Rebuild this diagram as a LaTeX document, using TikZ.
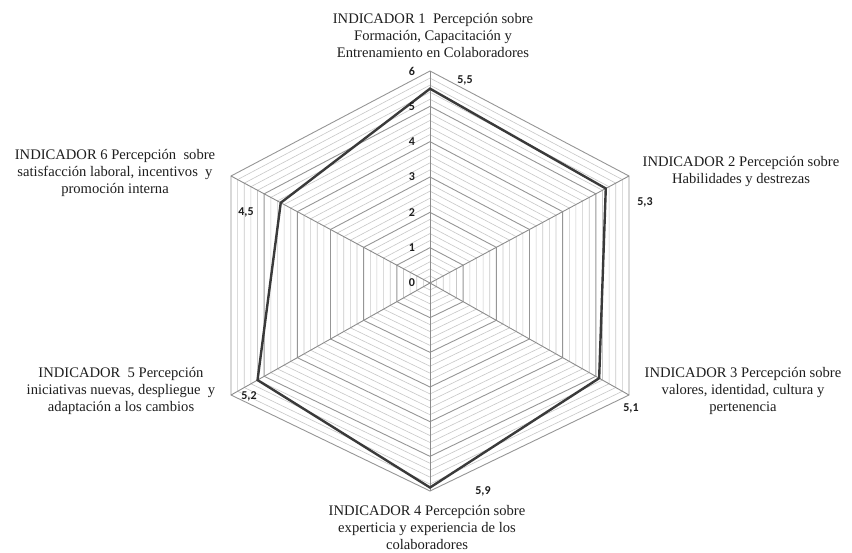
\documentclass[tikz,border=0pt]{standalone}
\usepackage{fontspec}
\setmainfont{Liberation Serif}
\newfontfamily\numfont{Carlito}
\usetikzlibrary{calc}
\definecolor{minorgrid}{HTML}{C8C8C8}
\definecolor{majorgrid}{HTML}{969696}
\definecolor{spokecol}{HTML}{8C8C8C}
\definecolor{datacol}{HTML}{3A3A3A}
\definecolor{txtcol}{HTML}{1E1E1E}
\tikzset{
  minorring/.style={draw=minorgrid, line width=0.6pt, line join=miter},
  majorring/.style={draw=majorgrid, line width=0.9pt, line join=miter},
  spoke/.style={draw=spokecol, line width=0.9pt},
  dataline/.style={draw=datacol, line width=2.4pt, line join=miter},
  indlabel/.style={align=center, text=txtcol, font=\fontsize{14.6}{17}\selectfont, inner sep=0pt},
  vallabel/.style={text=txtcol, font=\numfont\bfseries\fontsize{12}{14}\selectfont, inner sep=0pt},
}
\begin{document}
\begin{tikzpicture}[x=1pt,y=-1pt]
\useasboundingbox (0,0) rectangle (852,552);
\fill[white] (0,0) rectangle (852,552);
% centre and outer vertices (value 6)
\coordinate (C) at (430,283);
\coordinate (V1) at (430,71);
\coordinate (V2) at (629,176);
\coordinate (V3) at (629,395);
\coordinate (V4) at (430,491);
\coordinate (V5) at (231,395);
\coordinate (V6) at (231,176);
% rings
\foreach \i in {1,...,30}{
  \pgfmathsetmacro{\f}{\i/30}
  \pgfmathtruncatemacro{\m}{mod(\i,5)}
  \ifnum\m=0
    \def\rs{majorring}
  \else
    \def\rs{minorring}
  \fi
  \path[\rs] ($(C)!\f!(V1)$) -- ($(C)!\f!(V2)$) -- ($(C)!\f!(V3)$) --
    ($(C)!\f!(V4)$) -- ($(C)!\f!(V5)$) -- ($(C)!\f!(V6)$) -- cycle;
}
% spokes
\foreach \v in {V1,V2,V3,V4,V5,V6}{
  \draw[spoke] (C) -- (\v);
}
% data
\coordinate (D1) at ($(C)!5.5/6!(V1)$);
\coordinate (D2) at ($(C)!5.3/6!(V2)$);
\coordinate (D3) at ($(C)!5.1/6!(V3)$);
\coordinate (D4) at ($(C)!5.9/6!(V4)$);
\coordinate (D5) at ($(C)!5.2/6!(V5)$);
\coordinate (D6) at ($(C)!4.5/6!(V6)$);
\draw[dataline] (D1) -- (D2) -- (D3) -- (D4) -- (D5) -- (D6) -- cycle;
% axis scale labels
\foreach \k in {0,...,6}{
  \node[vallabel] (s\k) at ($(C)!\k/6!(V1) + (-18,0)$) {\k};
}
% value labels
\node[vallabel] (l1) at (465,80) {5,5};
\node[vallabel] (l2) at (645,202) {5,3};
\node[vallabel] (l3) at (631,408) {5,1};
\node[vallabel] (l4) at (483,491) {5,9};
\node[vallabel] (l5) at (249,396) {5,2};
\node[vallabel] (l6) at (246,212) {4,5};
% indicator labels
\node[indlabel] (i1) at (433,35) {INDICADOR 1\ \ Percepción sobre\\Formación, Capacitación y\\Entrenamiento en Colaboradores};
\node[indlabel] (i2) at (741,171) {INDICADOR 2 Percepción sobre\\Habilidades y destrezas};
\node[indlabel] (i3) at (743,391) {INDICADOR 3 Percepción sobre\\valores, identidad, cultura y\\pertenencia};
\node[indlabel] (i4) at (427,527) {INDICADOR 4 Percepción sobre\\experticia y experiencia de los\\colaboradores};
\node[indlabel] (i5) at (121,391) {INDICADOR\ \ 5 Percepción\\iniciativas nuevas, despliegue\ \ y\\adaptación a los cambios};
\node[indlabel] (i6) at (115,173) {INDICADOR 6 Percepción\ \ sobre\\satisfacción laboral, incentivos\ \ y\\promoción interna};
\end{tikzpicture}
\end{document}
